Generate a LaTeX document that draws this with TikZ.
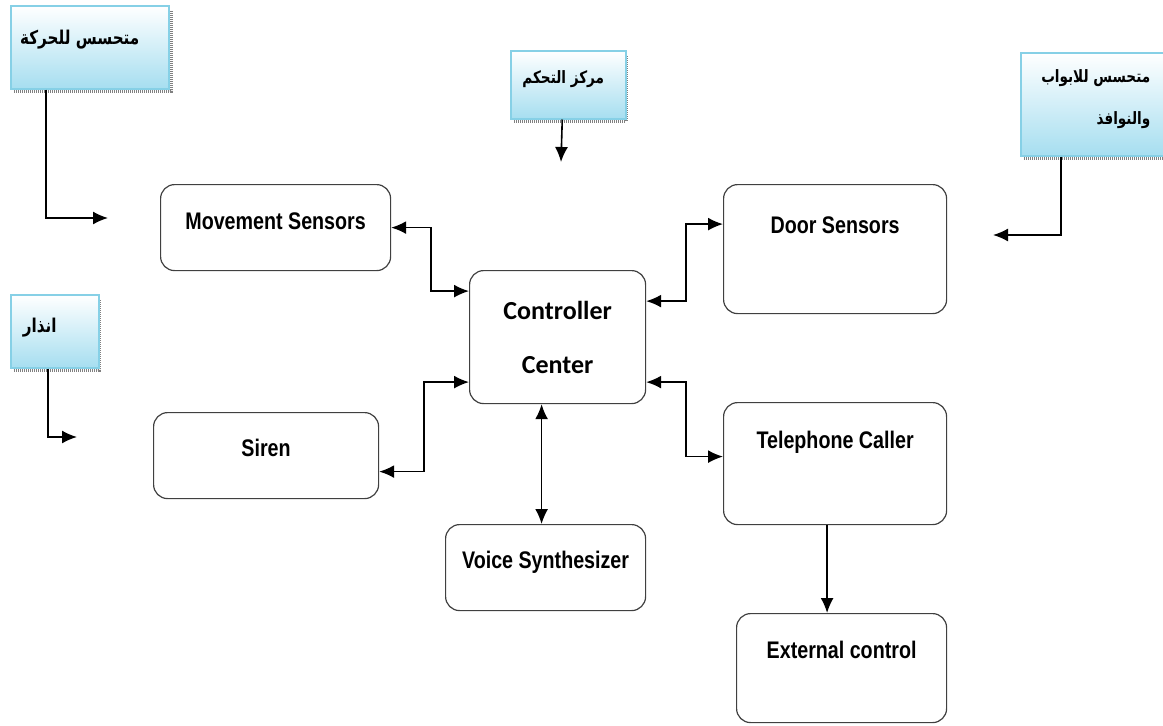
\documentclass[tikz,border=0pt]{standalone}
\usepackage{fontspec}
\usetikzlibrary{arrows.meta,calc}
\TeXXeTstate=1
\newfontfamily\narrowfont[FakeStretch=0.82]{Liberation Sans}
\newfontfamily\calfont{Carlito}
\newfontfamily\arabicfont[Script=Arabic,FakeStretch=0.8]{DejaVu Sans}
\definecolor{calloutline}{HTML}{86D0E6}
\definecolor{calloutfill}{HTML}{A6DEF0}
\tikzset{
  blk/.style={draw=black!75, line width=1.2pt, rounded corners=14pt, inner sep=0pt,
    anchor=north west, font=\narrowfont\bfseries\fontsize{24}{28}\selectfont},
  callout/.style={draw=calloutline, line width=1.5pt, top color=white, bottom color=calloutfill,
    inner sep=0pt, anchor=north west, font=\arabicfont\bfseries\fontsize{19}{42}\selectfont},
  dotshadow/.style={draw=black!50, line width=3.5pt, dash pattern=on 1pt off 1pt},
  arr/.style={line width=1.6pt, -{Latex[length=15pt,width=13pt]}},
  biarr/.style={line width=1.6pt, {Latex[length=15pt,width=13pt]}-{Latex[length=15pt,width=13pt]}}
}
\begin{document}
\begin{tikzpicture}[x=1pt,y=-1pt]
\useasboundingbox (0,0) rectangle (1163,726);
% main blocks
\node[blk, minimum width=230pt, text height=45pt, text depth=41pt] (mov) at (160,184) {Movement Sensors};
\node[blk, minimum width=223pt, text height=49pt, text depth=80pt] (dor) at (723,184) {Door Sensors};
\node[blk, minimum width=176pt, minimum height=133pt, align=center,
  font=\calfont\bfseries\fontsize{26}{54}\selectfont] (cc) at (469,270) {Controller\\Center};
\node[blk, minimum width=225pt, text height=44pt, text depth=42pt] (sir) at (153,412) {Siren};
\node[blk, minimum width=223pt, text height=46pt, text depth=76pt] (tel) at (723,402) {Telephone Caller};
\node[blk, minimum width=200pt, text height=44pt, text depth=42pt] (voi) at (445,524) {Voice Synthesizer};
\node[blk, minimum width=210pt, text height=45pt, text depth=64pt] (ext) at (736,613) {External control};

% arabic callouts
\draw[dotshadow] (14,91) -- (171,91) -- (171,10);
\node[callout, minimum width=158pt, text height=39pt, text depth=44pt] (mv) at (10,5) {\beginR متحسس للحركة\endR\hspace*{20pt}};
\draw[dotshadow] (514,121) -- (626,121) -- (626,55);
\node[callout, minimum width=115pt, text height=33pt, text depth=35pt, font=\arabicfont\bfseries\fontsize{17}{40}\selectfont] (ctl) at (510,50) {\beginR مركز التحكم\endR\hspace*{10pt}};
\draw[dotshadow] (1024,158) -- (1170,158);
\node[callout, minimum width=150pt, minimum height=103pt, align=right, font=\arabicfont\bfseries\fontsize{17}{44}\selectfont] (dw) at (1020,52)
  {\beginR متحسس للابواب\endR\\[-2pt]\beginR والنوافذ\endR\\[-30pt]};
\draw[dotshadow] (14,370) -- (99,370) -- (99,299);
\node[callout, minimum width=88pt, text height=38pt, text depth=35pt] (al) at (10,294) {\hspace*{-30pt}\beginR انذار\endR};

% free ends
\coordinate (mvend) at (108,218);
\coordinate (ctlend) at (561,162);
\coordinate (dwend) at (993,235);
\coordinate (alend) at (77,437);

\draw[arr] ([xshift=-44pt]mv.south) |- (mvend);
\draw[arr] ([xshift=-6pt]ctl.south) -- (ctlend);
\draw[arr] ([xshift=-35pt]dw.south) |- (dwend);
\draw[arr] ([xshift=-7pt]al.south) |- (alend);

% links to controller
\draw[biarr] (mov.east) -- ++(40,0) |- ([yshift=46pt]cc.west);
\draw[biarr] ([yshift=-16pt]sir.east) -- ++(45,0) |- ([yshift=-45pt]cc.west);
\draw[biarr] ([yshift=25pt]dor.west) -- ++(-37,0) |- ([yshift=36pt]cc.east);
\draw[biarr] ([yshift=7pt]tel.west) -- ++(-37,0) |- ([yshift=-45pt]cc.east);
\draw[biarr] ([xshift=-16pt]cc.south) -- ([xshift=-16pt]cc.south |- voi.north);
\draw[arr] ([xshift=-8pt]tel.south) -- ([xshift=-8pt]tel.south |- ext.north);
\end{tikzpicture}
\end{document}
